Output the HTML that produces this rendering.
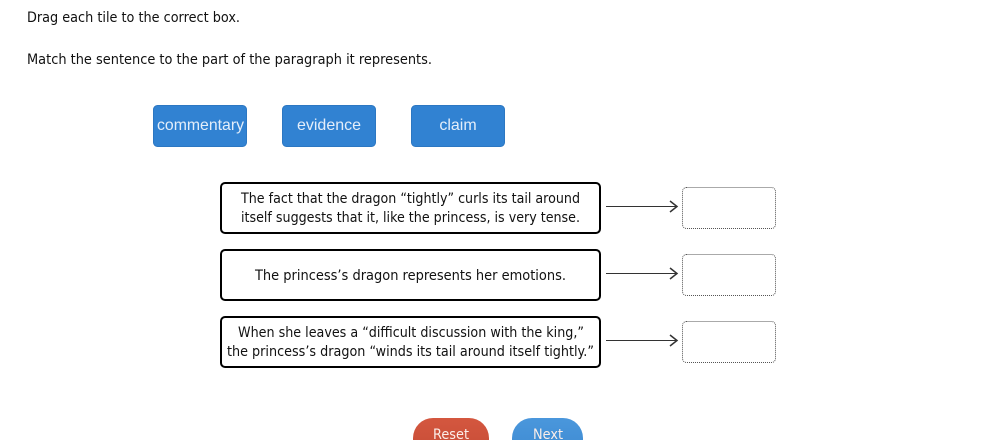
<!DOCTYPE html>
<html>
<head>
<meta charset="utf-8">
<style>
html,body{margin:0;padding:0;background:#fff;width:1002px;height:440px;overflow:hidden}
svg{display:block}
.t{font-family:"DejaVu Sans",sans-serif;font-size:14px;fill:#111}
.b{font-family:"Liberation Sans",sans-serif;font-size:16px;fill:#e4eefa;text-anchor:middle}
.p{font-family:"DejaVu Sans",sans-serif;font-size:14px;fill:#fbeee9;text-anchor:middle}
</style>
</head>
<body>
<svg width="1002" height="440" viewBox="0 0 1002 440" xmlns="http://www.w3.org/2000/svg">
<defs>
<linearGradient id="r" x1="0" y1="0" x2="0" y2="1"><stop offset="0" stop-color="#d4573f"/><stop offset="1" stop-color="#c44a35"/></linearGradient>
<linearGradient id="n" x1="0" y1="0" x2="0" y2="1"><stop offset="0" stop-color="#4a97dc"/><stop offset="1" stop-color="#3c88d0"/></linearGradient>
</defs>

<text class="t" x="27" y="22" textLength="213" lengthAdjust="spacingAndGlyphs">Drag each tile to the correct box.</text>
<text class="t" x="27" y="64" textLength="405" lengthAdjust="spacingAndGlyphs">Match the sentence to the part of the paragraph it represents.</text>

<rect x="153.500" y="105.500" width="93" height="41" rx="4" fill="#3182d2" stroke="#2c77c2" stroke-width="1"/>
<rect x="282.500" y="105.500" width="93" height="41" rx="4" fill="#3182d2" stroke="#2c77c2" stroke-width="1"/>
<rect x="411.500" y="105.500" width="93" height="41" rx="4" fill="#3182d2" stroke="#2c77c2" stroke-width="1"/>
<text class="b" x="200.500" y="130" textLength="87" lengthAdjust="spacingAndGlyphs">commentary</text>
<text class="b" x="329" y="130">evidence</text>
<text class="b" x="458" y="130">claim</text>

<rect x="221" y="183" width="379" height="50" rx="4" fill="#fff" stroke="#000" stroke-width="2"/>
<rect x="221" y="250" width="379" height="50" rx="4" fill="#fff" stroke="#000" stroke-width="2"/>
<rect x="221" y="317" width="379" height="50" rx="4" fill="#fff" stroke="#000" stroke-width="2"/>

<text class="t" x="241" y="203" textLength="339" lengthAdjust="spacingAndGlyphs">The fact that the dragon “tightly” curls its tail around</text>
<text class="t" x="241" y="222" textLength="339" lengthAdjust="spacingAndGlyphs">itself suggests that it, like the princess, is very tense.</text>
<text class="t" x="255" y="280" textLength="311" lengthAdjust="spacingAndGlyphs">The princess’s dragon represents her emotions.</text>
<text class="t" x="238" y="337" textLength="346" lengthAdjust="spacingAndGlyphs">When she leaves a “difficult discussion with the king,”</text>
<text class="t" x="227" y="356" textLength="367" lengthAdjust="spacingAndGlyphs">the princess’s dragon “winds its tail around itself tightly.”</text>

<g fill="none" stroke="#333" stroke-width="1">
<path d="M606 206.500H677"/>
<path d="M606 273.500H677"/>
<path d="M606 340.500H677"/>
</g>
<g fill="none" stroke="#333" stroke-width="1.500">
<path d="M670 201L677 206.500L670 212"/>
<path d="M670 268L677 273.500L670 279"/>
<path d="M670 335L677 340.500L670 346"/>
</g>

<g fill="#fff" stroke="#555" stroke-width="1" stroke-dasharray="1 1">
<rect x="682.500" y="187.500" width="93" height="41" rx="4"/>
<rect x="682.500" y="254.500" width="93" height="41" rx="4"/>
<rect x="682.500" y="321.500" width="93" height="41" rx="4"/>
</g>

<rect x="413" y="418" width="76" height="44" rx="20" fill="url(#r)"/>
<rect x="512" y="418" width="71" height="44" rx="20" fill="url(#n)"/>
<text class="p" x="451" y="439" textLength="36" lengthAdjust="spacingAndGlyphs">Reset</text>
<text class="p" x="548" y="439" textLength="30" lengthAdjust="spacingAndGlyphs">Next</text>
</svg>
</body>
</html>
